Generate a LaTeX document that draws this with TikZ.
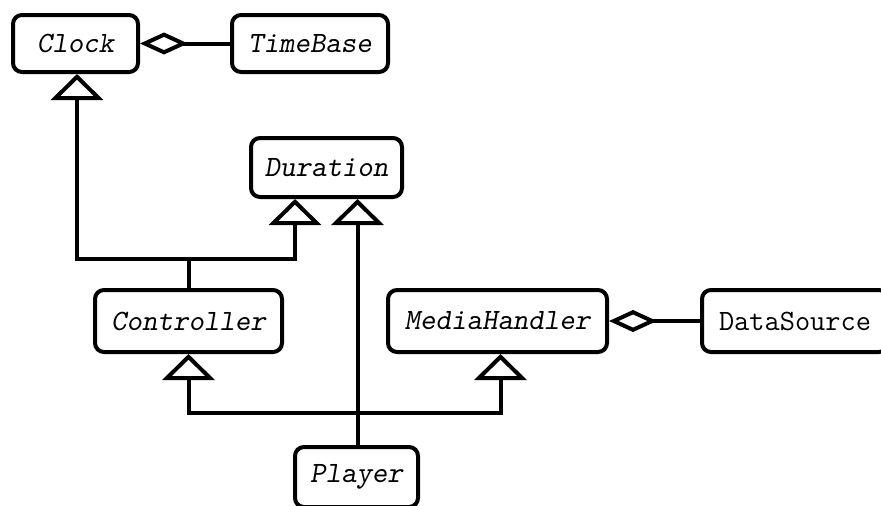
\documentclass[tikz,border=0pt]{standalone}
\usepackage{fontspec}
\usetikzlibrary{arrows.meta}

\tikzset{
  cls/.style={draw, line width=4pt, rounded corners=9pt, fill=white,
    inner sep=0pt, font=\ttfamily\slshape\fontsize{29.5}{34}\selectfont},
  plaincls/.style={cls, font=\ttfamily\upshape\fontsize{29.5}{34}\selectfont},
  link/.style={line width=4pt},
  gen/.style={link, -{Triangle[open, length=26pt, width=52pt, line width=4pt]}},
  agg/.style={link, -{Diamond[open, length=48pt, width=22pt, line width=4pt]}},
}

\begin{document}
\begin{tikzpicture}[x=1pt, y=-1pt]
  \useasboundingbox (0,0) rectangle (881,506);
  \clip (0,0) rectangle (881,506);

  % classes
  \node[cls, minimum width=125pt, minimum height=57pt] (clock) at (75.5,43.5) {Clock};
  \node[cls, minimum width=156pt, minimum height=57pt] (timebase) at (310,43.5) {TimeBase};
  \node[cls, minimum width=151pt, minimum height=59pt] (dur) at (326.5,167.5) {Duration};
  \node[cls, minimum width=187pt, minimum height=62pt] (ctrl) at (188.5,321) {Controller};
  \node[cls, minimum width=219pt, minimum height=62pt] (mh) at (497.5,321) {MediaHandler};
  \node[plaincls, minimum width=186pt, minimum height=62pt] (ds) at (795,321) {DataSource};
  \node[cls, minimum width=123pt, minimum height=60pt] (player) at (356.5,477) {Player};

  % aggregations
  \draw[agg] (timebase.west) -- (clock.east);
  \draw[agg] (ds.west) -- (mh.east);

  % Controller generalizes Clock and Duration
  \coordinate (cj) at (189,259);
  \draw[link] (ctrl.north -| cj) -- (cj);
  \draw[gen] (cj) -| ([xshift=1.5pt]clock.south);
  \draw[gen] (cj) -| ([xshift=-31.5pt]dur.south);

  % Player generalizes Duration, Controller and MediaHandler
  \draw[gen] ([xshift=1pt]player.north) -- ([xshift=31pt]dur.south);
  \coordinate (pj) at (357.5,413);
  \draw[gen] (pj) -| (ctrl.south);
  \draw[gen] (pj) -| ([xshift=3pt]mh.south);
\end{tikzpicture}
\end{document}
